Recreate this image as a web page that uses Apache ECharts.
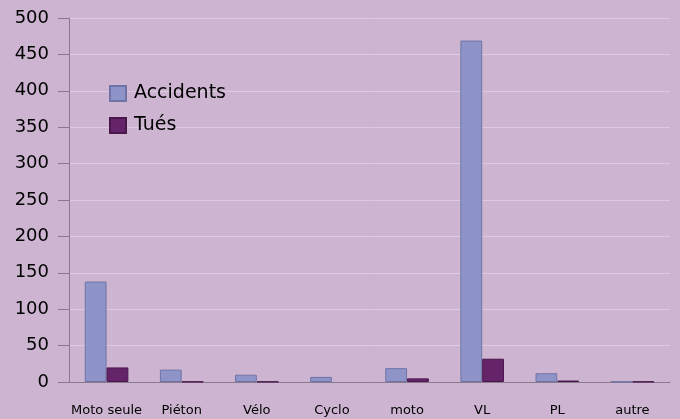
<!DOCTYPE html>
<html>
<head>
<meta charset="utf-8">
<script src="https://cdn.jsdelivr.net/npm/echarts@6/dist/echarts.min.js"></script>
<style>
  html, body { margin: 0; padding: 0; background: #cdb5d2; }
  #chart { width: 680px; height: 419px; }
</style>
</head>
<body>
<div id="chart"></div>
<script>
const categories = ['Moto seule', 'Piéton', 'Vélo', 'Cyclo', 'moto', 'VL', 'PL', 'autre']
const accidents = [138, 17, 10, 7, 19, 469, 12, 0.5]
const tues = [20, 0.5, 0.5, 0, 5, 32, 2, 0.5]
const yTicks = { min: 0, max: 500, interval: 50 }

// Excel ne dessine rien pour une valeur nulle
const toBars = arr => arr.map(v => v === 0 ? { value: 0, itemStyle: { borderWidth: 0 } } : v)

const chart = echarts.init(document.getElementById('chart'))

chart.setOption({
  backgroundColor: '#cdb5d2',
  textStyle: { fontFamily: 'DejaVu Sans, sans-serif' },
  grid: { left: 69, right: 10, top: 18, bottom: 37 },
  legend: {
    orient: 'vertical',
    left: 104,
    top: 79,
    icon: 'rect',
    itemWidth: 16,
    itemHeight: 15,
    itemGap: 13,
    textStyle: { fontSize: 19, color: '#000', padding: [0, 0, 0, 3] },
    data: ['Accidents', 'Tués']
  },
  xAxis: {
    type: 'category',
    data: categories,
    axisLine: { lineStyle: { color: '#887a8c' } },
    axisTick: { length: 11, lineStyle: { color: '#887a8c' } },
    axisLabel: { color: '#000', fontSize: 13, margin: 22, interval: 0 }
  },
  yAxis: {
    type: 'value',
    min: yTicks.min,
    max: yTicks.max,
    interval: yTicks.interval,
    axisLine: { show: true, lineStyle: { color: '#887a8c' } },
    axisTick: { show: true, length: 11, lineStyle: { color: '#887a8c' } },
    axisLabel: { color: '#000', fontSize: 18, margin: 20 },
    splitLine: { lineStyle: { color: '#dccbe0', width: 1 } }
  },
  series: [
    {
      name: 'Accidents',
      type: 'bar',
      data: toBars(accidents),
      barGap: '0%',
      barCategoryGap: '42%',
      itemStyle: { color: '#8f94c8', borderColor: '#6f73a6', borderWidth: 1 }
    },
    {
      name: 'Tués',
      type: 'bar',
      data: toBars(tues),
      itemStyle: { color: '#652369', borderColor: '#4a174d', borderWidth: 1 }
    }
  ]
})
</script>
</body>
</html>
